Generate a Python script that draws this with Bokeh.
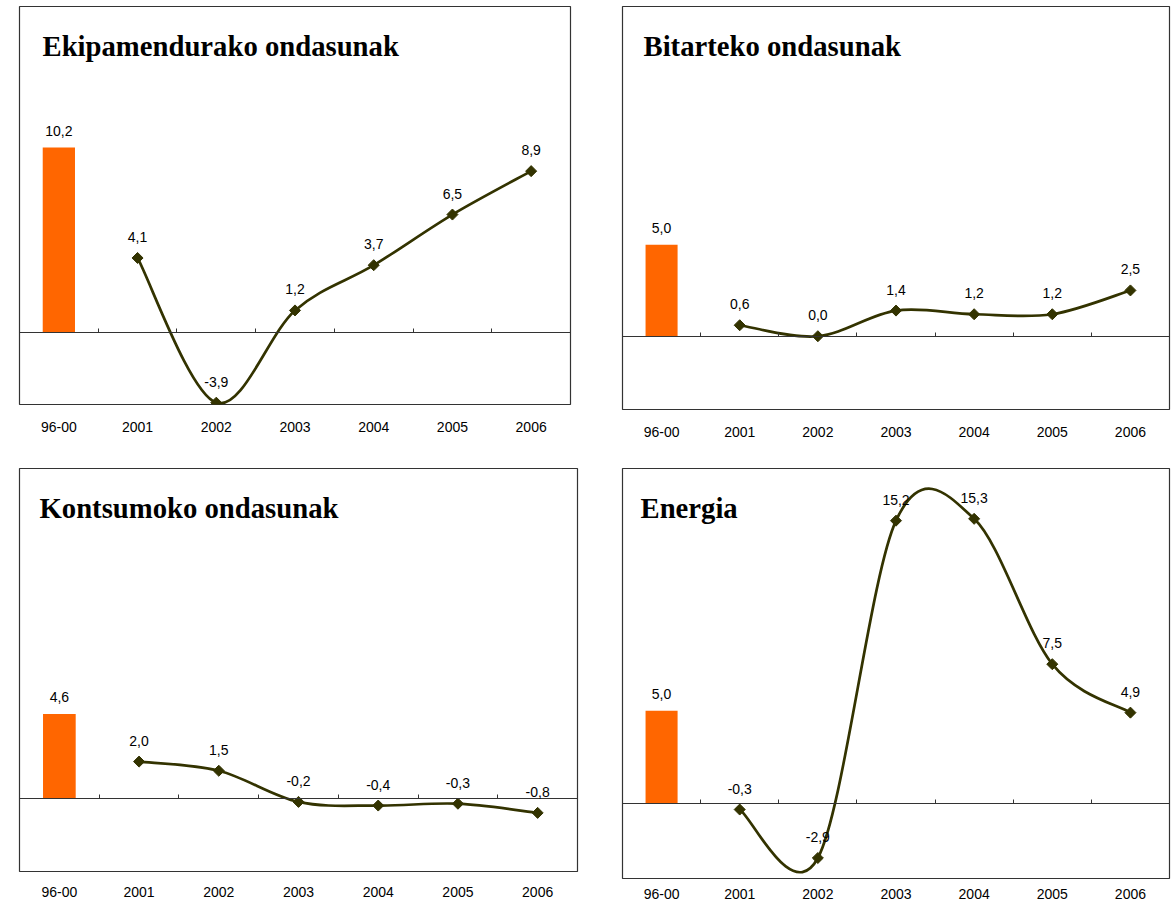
import numpy as np
from bokeh.plotting import figure
from bokeh.models import Range1d, LinearAxis, FixedTicker, ColumnDataSource, LabelSet, Label
from bokeh.core.properties import value
from bokeh.layouts import row, column
from bokeh.embed import file_html
from bokeh.resources import INLINE

# ---------------- data ----------------
categories = ["96-00", "2001", "2002", "2003", "2004", "2005", "2006"]

titles = ["Ekipamendurako ondasunak", "Bitarteko ondasunak",
          "Kontsumoko ondasunak", "Energia"]

ekipamendu_avg = 10.2
ekipamendu = [4.1, -3.9, 1.2, 3.7, 6.5, 8.9]

bitarteko_avg = 5.0
bitarteko = [0.6, 0.0, 1.4, 1.2, 1.2, 2.5]

kontsumo_avg = 4.6
kontsumo = [2.0, 1.5, -0.2, -0.4, -0.3, -0.8]

energia_avg = 5.0
energia = [-0.3, -2.9, 15.2, 15.3, 7.5, 4.9]

Y_MIN, Y_MAX = -4, 18

BAR_COLOR = "#FF6600"
LINE_COLOR = "#333300"
FRAME_COLOR = "#333333"
SANS = "Liberation Sans"


def fmt(v):
    return f"{v:.1f}".replace(".", ",")


def make_panel(title, avg, vals, fw, fh, left, right, top, bottom,
               title_dx, standoff):
    n = len(categories)
    p = figure(frame_width=fw, frame_height=fh,
               x_range=Range1d(0, n), y_range=Range1d(Y_MIN, Y_MAX),
               x_axis_location=None, y_axis_location=None,
               toolbar_location=None, output_backend="svg",
               min_border_left=left, min_border_right=right,
               min_border_top=top, min_border_bottom=bottom,
               outline_line_color=FRAME_COLOR, outline_line_width=1.2,
               background_fill_color="white", border_fill_color="white")
    p.grid.visible = False

    xc = [i + 0.5 for i in range(n)]

    # zero line with small category-separator ticks
    tick_axis = LinearAxis(fixed_location=0,
                           ticker=FixedTicker(ticks=[float(i) for i in range(1, n)]),
                           major_tick_in=4, major_tick_out=0,
                           minor_tick_line_color=None,
                           major_label_text_color=None,
                           major_label_text_font_size="1px",
                           major_label_standoff=0,
                           axis_line_color=FRAME_COLOR, axis_line_width=1,
                           major_tick_line_color=FRAME_COLOR)
    p.add_layout(tick_axis, "below")

    # category labels below the frame
    label_axis = LinearAxis(ticker=FixedTicker(ticks=xc),
                            major_label_overrides={x: c for x, c in zip(xc, categories)},
                            axis_line_color=None, major_tick_line_color=None,
                            minor_tick_line_color=None,
                            major_tick_in=0, major_tick_out=0,
                            major_label_standoff=standoff,
                            major_label_text_font=SANS,
                            major_label_text_font_size="14px",
                            major_label_text_color="#000000")
    p.add_layout(label_axis, "below")

    # average bar
    src_bar = ColumnDataSource(dict(x=[xc[0]], top=[avg], label=[fmt(avg)]))
    p.vbar(x="x", top="top", bottom=0, width=0.41, source=src_bar,
           fill_color=BAR_COLOR, line_color=None)
    p.add_layout(LabelSet(x="x", y="top", text="label", source=src_bar,
                          text_align="center", text_baseline="alphabetic",
                          y_offset=12, text_font=value(SANS),
                          text_font_size=value("14px"), text_color="#000000"))

    # smoothed yearly line (Catmull-Rom style Bezier segments from the data)
    xs = xc[1:]
    pts = list(zip(xs, vals))
    seg = dict(x0=[], y0=[], x1=[], y1=[], cx0=[], cy0=[], cx1=[], cy1=[])
    for i in range(len(pts) - 1):
        P0 = pts[i - 1] if i > 0 else pts[i]
        P1 = pts[i]
        P2 = pts[i + 1]
        P3 = pts[i + 2] if i + 2 < len(pts) else pts[i + 1]
        seg["x0"].append(P1[0]); seg["y0"].append(P1[1])
        seg["x1"].append(P2[0]); seg["y1"].append(P2[1])
        seg["cx0"].append(P1[0] + (P2[0] - P0[0]) / 6)
        seg["cy0"].append(P1[1] + (P2[1] - P0[1]) / 6)
        seg["cx1"].append(P2[0] - (P3[0] - P1[0]) / 6)
        seg["cy1"].append(P2[1] - (P3[1] - P1[1]) / 6)
    p.bezier(x0="x0", y0="y0", x1="x1", y1="y1", cx0="cx0", cy0="cy0",
             cx1="cx1", cy1="cy1", source=ColumnDataSource(seg),
             line_color=LINE_COLOR, line_width=2.7, line_cap="round")

    src_pts = ColumnDataSource(dict(x=xs, y=vals, label=[fmt(v) for v in vals]))
    p.scatter(x="x", y="y", source=src_pts, marker="square", angle=np.pi / 4,
              size=7.8, fill_color=LINE_COLOR, line_color=LINE_COLOR)
    p.add_layout(LabelSet(x="x", y="y", text="label", source=src_pts,
                          text_align="center", text_baseline="alphabetic",
                          y_offset=16, text_font=value(SANS),
                          text_font_size=value("14px"), text_color="#000000"))

    # panel title inside the frame
    p.add_layout(Label(x=0, y=Y_MAX, x_offset=title_dx, y_offset=-39,
                       text=title, text_font="Liberation Serif",
                       text_font_style="bold", text_font_size="28.7px",
                       text_baseline="alphabetic", text_align="left",
                       text_color="#000000"))
    return p


p1 = make_panel(titles[0], ekipamendu_avg, ekipamendu, 551, 398, 19, 48, 6, 60, 23, 17)
p2 = make_panel(titles[1], bitarteko_avg, bitarteko, 547, 403, 4, 2, 4, 57, 21, 17)
p3 = make_panel(titles[2], kontsumo_avg, kontsumo, 558, 403, 19, 41, 4, 41, 20, 15)
p4 = make_panel(titles[3], energia_avg, energia, 547, 410, 4, 2, 4, 36, 18, 10)

layout = column(row(p1, p2), row(p3, p4))

with open("out.html", "w") as f:
    f.write(file_html(layout, INLINE))
